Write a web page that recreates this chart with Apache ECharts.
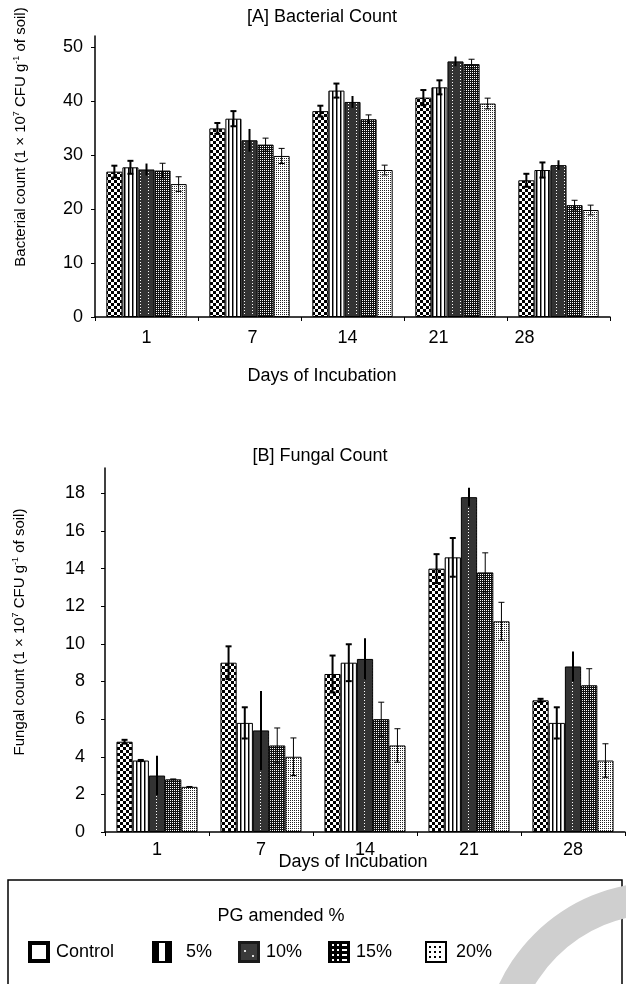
<!DOCTYPE html>
<html><head><meta charset="utf-8">
<script src="https://cdn.jsdelivr.net/npm/echarts@6/dist/echarts.min.js"></script>
<style>html,body{margin:0;padding:0;background:#fff}#c{width:626px;height:984px}</style>
</head><body><div id="c"></div>
<script>
// ---------- data ----------
const days = ['1', '7', '14', '21', '28'];
const seriesNames = ['Control', '5%', '10%', '15%', '20%'];
const bactTicks = [0, 10, 20, 30, 40, 50];
const fungTicks = [0, 2, 4, 6, 8, 10, 12, 14, 16, 18];

const bactControl = [26.9, 34.9, 38.1, 40.6, 25.3];
const bact5 = [27.7, 36.7, 41.9, 42.5, 27.2];
const bact10 = [27.3, 32.7, 39.8, 47.3, 28.1];
const bact15 = [27.1, 31.9, 36.6, 46.8, 20.7];
const bact20 = [24.6, 29.8, 27.2, 39.5, 19.8];
const bactErrControl = [1.1, 1.0, 1.0, 1.4, 1.2];
const bactErr5 = [1.2, 1.4, 1.3, 1.3, 1.4];
const bactErr10 = [1.1, 2.1, 1.1, 0.9, 0.9];
const bactErr15 = [1.35, 1.2, 0.8, 0.9, 0.9];
const bactErr20 = [1.35, 1.4, 0.9, 1.0, 0.9];

const fungControl = [4.8, 9.0, 8.4, 14.0, 7.0];
const fung5 = [3.8, 5.8, 9.0, 14.6, 5.8];
const fung10 = [3.0, 5.4, 9.2, 17.8, 8.8];
const fung15 = [2.8, 4.6, 6.0, 13.8, 7.8];
const fung20 = [2.4, 4.0, 4.6, 11.2, 3.8];
const fungErrControl = [0.1, 0.87, 0.98, 0.77, 0.08];
const fungErr5 = [0.03, 0.83, 0.98, 1.03, 0.83];
const fungErr10 = [1.05, 2.1, 1.1, 0.5, 0.8];
const fungErr15 = [0.02, 0.93, 0.9, 1.04, 0.88];
const fungErr20 = [0.02, 1.0, 0.89, 1.01, 0.89];

// ---------- styling ----------
const FONT = 'Liberation Sans';
const FS = 18;
const GAP = 0.22;
function pat(w, h, draw) {
  const c = document.createElement('canvas'); c.width = w; c.height = h;
  const g = c.getContext('2d'); draw(g); return c;
}
const pControl = pat(6, 6, g => { g.fillStyle = '#fff'; g.fillRect(0, 0, 6, 6); g.fillStyle = '#000'; g.fillRect(0, 0, 3, 3); g.fillRect(3, 3, 3, 3); });
const p5 = pat(4, 1, g => { g.fillStyle = '#fff'; g.fillRect(0, 0, 4, 1); g.fillStyle = '#000'; g.fillRect(0, 0, 1, 1); g.fillStyle = '#888'; g.fillRect(1, 0, 1, 1); });
const p10 = pat(8, 3, g => { g.fillStyle = '#333'; g.fillRect(0, 0, 8, 3); g.fillStyle = '#fff'; g.fillRect(4, 1, 1, 1); });
const p15 = pat(2, 2, g => { g.fillStyle = '#111'; g.fillRect(0, 0, 2, 2); g.fillStyle = '#fff'; g.fillRect(0, 0, 1, 1); });
const p20 = pat(2, 2, g => { g.fillStyle = '#fff'; g.fillRect(0, 0, 2, 2); g.fillStyle = '#222'; g.fillRect(0, 0, 1, 1); });
const patterns = [pControl, p5, p10, p15, p20];
const errWidth = [2, 2, 2, 1, 1];
const errCaps = [true, true, false, true, true];

const bactVals = [bactControl, bact5, bact10, bact15, bact20];
const bactErrs = [bactErrControl, bactErr5, bactErr10, bactErr15, bactErr20];
const fungVals = [fungControl, fung5, fung10, fung15, fung20];
const fungErrs = [fungErrControl, fungErr5, fungErr10, fungErr15, fungErr20];

function barSeries(gi, vals) {
  return vals.map((v, si) => ({
    name: seriesNames[si], type: 'bar', xAxisIndex: gi, yAxisIndex: gi,
    data: v, barGap: '0%', barCategoryGap: (GAP * 100) + '%', silent: true,
    itemStyle: { color: { image: patterns[si], repeat: 'repeat' }, borderColor: '#000', borderWidth: 1 }
  }));
}
function errSeries(gi, vals, errs) {
  return vals.map((v, si) => ({
    type: 'custom', xAxisIndex: gi, yAxisIndex: gi, z: 10, silent: true,
    data: v.map((val, i) => [i, val - errs[si][i], val + errs[si][i]]),
    encode: { x: 0, y: [1, 2] },
    renderItem(params, api) {
      const band = api.size([1, 0])[0];
      const gw = band * (1 - GAP);
      const bw = gw / 5;
      const xc = api.coord([api.value(0), 0])[0] - gw / 2 + bw * (si + 0.5);
      const lo = api.coord([api.value(0), api.value(1)])[1];
      const hi = api.coord([api.value(0), api.value(2)])[1];
      const st = { stroke: '#000', lineWidth: errWidth[si] };
      const ch = [{ type: 'line', shape: { x1: xc, y1: hi, x2: xc, y2: lo }, style: st }];
      if (errCaps[si]) {
        ch.push({ type: 'line', shape: { x1: xc - 3, y1: hi, x2: xc + 3, y2: hi }, style: st });
        ch.push({ type: 'line', shape: { x1: xc - 3, y1: lo, x2: xc + 3, y2: lo }, style: st });
      }
      return { type: 'group', children: ch };
    }
  }));
}

const topLabelShift = [0, 3, -5, -17, -34];
const rich = {};
topLabelShift.forEach((s, i) => {
  rich['o' + i] = { fontFamily: FONT, fontSize: FS, color: '#000', padding: s < 0 ? [0, -2 * s, 0, 0] : [0, 0, 0, 2 * s] };
});

const axisCommon = {
  axisLine: { show: true, lineStyle: { color: '#000', width: 1.5 } },
  axisTick: { show: true, lineStyle: { color: '#000' }, length: 4 },
  splitLine: { show: false }
};

const chart = echarts.init(document.getElementById('c'), null, { renderer: 'canvas' });
const nameRich = {
  n: { fontFamily: FONT, fontSize: 15, lineHeight: 18, color: '#000' },
  s: { fontFamily: FONT, fontSize: 9, lineHeight: 10, verticalAlign: 'top', color: '#000' }
};
function txt(x, y, text, size) {
  return { type: 'text', x: x, y: y,
    style: { text: text, fontFamily: FONT, fontSize: size, fill: '#000', align: 'center', verticalAlign: 'middle' } };
}
const legendX = [28, 152, 238, 328, 425];
const legendTextX = [56, 186, 266, 356, 456];
const legendY = 952;

function icon(i, x, y) {
  const s = 22;
  const ch = [];
  if (i === 0) {
    ch.push({ type: 'rect', shape: { x: x, y: y, width: s, height: s }, style: { fill: '#000' } });
    ch.push({ type: 'rect', shape: { x: x + 4, y: y + 4, width: s - 8, height: s - 8 }, style: { fill: '#fff' } });
  } else if (i === 1) {
    ch.push({ type: 'rect', shape: { x: x, y: y, width: 20, height: s }, style: { fill: '#000' } });
    ch.push({ type: 'rect', shape: { x: x + 7, y: y + 2, width: 6, height: s - 4 }, style: { fill: '#fff' } });
  } else if (i === 2) {
    ch.push({ type: 'rect', shape: { x: x, y: y, width: s, height: s }, style: { fill: '#1a1a1a' } });
    ch.push({ type: 'rect', shape: { x: x + 3, y: y + 3, width: s - 6, height: s - 6 }, style: { fill: '#3a3a3a' } });
    ch.push({ type: 'rect', shape: { x: x + 6, y: y + 9, width: 2, height: 2 }, style: { fill: '#ddd' } });
    ch.push({ type: 'rect', shape: { x: x + 14, y: y + 14, width: 2, height: 2 }, style: { fill: '#ddd' } });
  } else if (i === 3) {
    ch.push({ type: 'rect', shape: { x: x, y: y, width: s, height: s }, style: { fill: '#000' } });
    for (let r = 0; r < 4; r++) for (let c = 0; c < 3; c++) {
      ch.push({ type: 'rect', shape: { x: x + 4 + c * 5, y: y + 3 + r * 5, width: 2 + (c === 2 ? 3 : 0), height: 2 }, style: { fill: '#fff' } });
    }
  } else {
    ch.push({ type: 'rect', shape: { x: x, y: y, width: s, height: s }, style: { fill: '#000' } });
    ch.push({ type: 'rect', shape: { x: x + 2, y: y + 2, width: s - 4, height: s - 4 }, style: { fill: '#fff' } });
    for (let r = 0; r < 3; r++) for (let c = 0; c < 3; c++) {
      ch.push({ type: 'rect', shape: { x: x + 4 + c * 5, y: y + 5 + r * 5, width: 2, height: 2 }, style: { fill: '#000' } });
    }
  }
  return { type: 'group', children: ch };
}

const graphics = [
  { type: 'rect', shape: { x: 8, y: 880, width: 614, height: 120 }, style: { fill: 'none', stroke: '#000', lineWidth: 1.5 }, z: 2 },
  { type: 'ring', shape: { cx: 660, cy: 1060, r: 178, r0: 146 }, style: { fill: '#cfcfcf' }, z: 3 },
  txt(322, 17, '[A] Bacterial Count', FS),
  txt(322, 376, 'Days of Incubation', FS),
  txt(320, 456, '[B] Fungal Count', FS),
  txt(353, 862, 'Days of Incubation', FS),
  txt(281, 916, 'PG amended %', FS),
  { type: 'text', x: 21, y: 137, rotation: Math.PI / 2,
    style: { text: '{n|Bacterial count (1 × 10}{s|7}{n| CFU g}{s|-1}{n| of soil)}', rich: nameRich, align: 'center', verticalAlign: 'middle' } },
  { type: 'text', x: 20, y: 632, rotation: Math.PI / 2,
    style: { text: '{n|Fungal count (1 × 10}{s|7}{n| CFU g}{s|-1}{n| of soil)}', rich: nameRich, align: 'center', verticalAlign: 'middle' } }
];
seriesNames.forEach((n, i) => {
  graphics.push(Object.assign(icon(i, legendX[i], legendY - 11), { z: 5 }));
  graphics.push({ type: 'text', x: legendTextX[i], y: legendY, z: 5,
    style: { text: n, fontFamily: FONT, fontSize: FS, fill: '#000', align: 'left', verticalAlign: 'middle' } });
});

chart.setOption({
  animation: false,
  backgroundColor: '#fff',
  grid: [
    { left: 95, right: 16, top: 36, bottom: 667, containLabel: false },
    { left: 105, right: 1, top: 468, bottom: 152, containLabel: false }
  ],
  xAxis: [
    Object.assign({ type: 'category', gridIndex: 0, data: days,
      axisLabel: { interval: 0, margin: 12, formatter: (v, i) => '{o' + i + '|' + v + '}', rich: rich } }, axisCommon),
    Object.assign({ type: 'category', gridIndex: 1, data: days,
      axisLabel: { interval: 0, margin: 9, fontFamily: FONT, fontSize: FS, color: '#000' } }, axisCommon)
  ],
  yAxis: [
    Object.assign({ type: 'value', gridIndex: 0, min: bactTicks[0], max: 52, interval: 10,
      axisLabel: { margin: 12, fontFamily: FONT, fontSize: FS, color: '#000', showMaxLabel: false,
        formatter: v => bactTicks.includes(v) ? String(v) : '' } }, axisCommon),
    Object.assign({ type: 'value', gridIndex: 1, min: fungTicks[0], max: 19.35, interval: 2,
      axisLabel: { margin: 20, fontFamily: FONT, fontSize: FS, color: '#000', showMaxLabel: false,
        formatter: v => fungTicks.includes(v) ? String(v) : '' } }, axisCommon)
  ],
  series: [].concat(barSeries(0, bactVals), errSeries(0, bactVals, bactErrs), barSeries(1, fungVals), errSeries(1, fungVals, fungErrs)),
  graphic: graphics
});
</script></body></html>
